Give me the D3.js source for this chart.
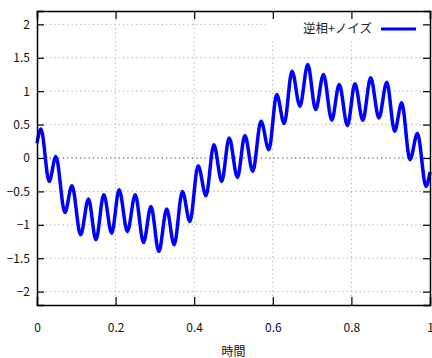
<!DOCTYPE html>
<html>
<head>
<meta charset="utf-8">
<script src="https://cdn.jsdelivr.net/npm/d3@7"></script>
<style>
  body { margin: 0; background: #fff; }
  text { font-family: "Noto Sans CJK JP", "Noto Sans", sans-serif; }
</style>
</head>
<body>
<div id="chart"></div>
<script>
// curve (peaks and troughs)
var times = [0, 0.010, 0.031, 0.048, 0.071, 0.089, 0.111, 0.131, 0.150, 0.170, 0.190, 0.209, 0.230, 0.250,
  0.271, 0.290, 0.310, 0.330, 0.349, 0.370, 0.389, 0.410, 0.430, 0.450, 0.470, 0.489, 0.510,
  0.529, 0.549, 0.570, 0.590, 0.610, 0.629, 0.649, 0.669, 0.689, 0.709, 0.729, 0.750,
  0.769, 0.790, 0.809, 0.829, 0.849, 0.870, 0.890, 0.910, 0.928, 0.949, 0.968, 0.990, 1.0];
var values = [0.22, 0.435, -0.35, 0.024, -0.815, -0.415, -1.15, -0.615, -1.225, -0.55, -1.125, -0.475, -1.1, -0.55,
  -1.265, -0.725, -1.40, -0.765, -1.30, -0.50, -0.95, -0.115, -0.565, 0.20, -0.35, 0.30, -0.29,
  0.335, -0.20, 0.55, 0.125, 0.95, 0.515, 1.30, 0.775, 1.40, 0.725, 1.25, 0.565,
  1.10, 0.485, 1.11, 0.565, 1.20, 0.60, 1.135, 0.40, 0.825, -0.025, 0.365, -0.425, -0.21];

var xTicks = [0, 0.2, 0.4, 0.6, 0.8, 1];
var yTicks = [-2, -1.5, -1, -0.5, 0, 0.5, 1, 1.5, 2];
var seriesName = "逆相+ノイズ";
var xTitle = "時間";

var totalWidth = 432, totalHeight = 358;
var margin = { top: 11, right: 2, bottom: 53, left: 37 };
var width = totalWidth - margin.left - margin.right;
var height = totalHeight - margin.top - margin.bottom;

var svg = d3.select("#chart").append("svg")
    .attr("width", totalWidth)
    .attr("height", totalHeight)
  .append("g")
    .attr("transform", "translate(" + margin.left + "," + margin.top + ")");

var x = d3.scaleLinear().domain([0, 1]).range([0, width]);
var y = d3.scaleLinear().domain([-2.2, 2.2]).range([height, 0]);

// grid
svg.append("g").selectAll("line")
    .data(yTicks)
  .enter().append("line")
    .attr("x1", 0).attr("x2", width)
    .attr("y1", d => y(d)).attr("y2", d => y(d))
    .style("stroke", d => d === 0 ? "#444" : "#b0b0b0")
    .style("stroke-width", 1)
    .style("stroke-dasharray", "1.3,3");

svg.append("g").selectAll("line")
    .data(xTicks.filter(d => d > 0 && d < 1))
  .enter().append("line")
    .attr("y1", 0).attr("y2", height)
    .attr("x1", d => x(d)).attr("x2", d => x(d))
    .style("stroke", "#b0b0b0")
    .style("stroke-width", 1)
    .style("stroke-dasharray", "1.3,3");

// legend background hides grid
svg.append("rect")
    .attr("x", 229).attr("y", 1)
    .attr("width", width - 230).attr("height", 28)
    .attr("fill", "#fff");

// the curve
var line = d3.line()
    .x((d, i) => x(times[i]))
    .y(d => y(d))
    .curve(d3.curveMonotoneX);

svg.append("path")
    .datum(values)
    .attr("d", line)
    .style("fill", "none")
    .style("stroke", "#0000ff")
    .style("stroke-width", 3.5)
    .style("stroke-linejoin", "round");

// axes, ticks point inward
var tickFmt = d3.format("");
svg.append("g")
    .attr("transform", "translate(0," + height + ")")
    .call(d3.axisBottom(x).tickValues(xTicks).tickSize(-8).tickPadding(18).tickFormat(tickFmt));
svg.append("g")
    .call(d3.axisTop(x).tickValues(xTicks).tickSize(-8).tickFormat(""));
svg.append("g")
    .call(d3.axisLeft(y).tickValues(yTicks).tickSize(-7).tickPadding(7).tickFormat(tickFmt));
svg.append("g")
    .attr("transform", "translate(" + width + ",0)")
    .call(d3.axisRight(y).tickValues(yTicks).tickSize(-7).tickFormat(""));

svg.selectAll(".domain").style("stroke", "#000").style("stroke-width", 1.5);
svg.selectAll(".tick line").style("stroke", "#000").style("stroke-width", 1.2);
svg.selectAll(".tick text")
    .style("font-size", "12px")
    .style("fill", "#111")
    .style("font-family", "'Noto Sans CJK JP', sans-serif");

// legend
svg.append("text")
    .attr("x", 335).attr("y", 22)
    .attr("text-anchor", "end")
    .style("font-size", "12.5px")
    .style("fill", "#222")
    .text(seriesName);
svg.append("line")
    .attr("x1", 344).attr("x2", 379)
    .attr("y1", 18).attr("y2", 18)
    .style("stroke", "#0000ff")
    .style("stroke-width", 3);

// x title
svg.append("text")
    .attr("x", width / 2).attr("y", height + 51)
    .attr("text-anchor", "middle")
    .style("font-size", "12px")
    .style("fill", "#111")
    .text(xTitle);
</script>
</body>
</html>
